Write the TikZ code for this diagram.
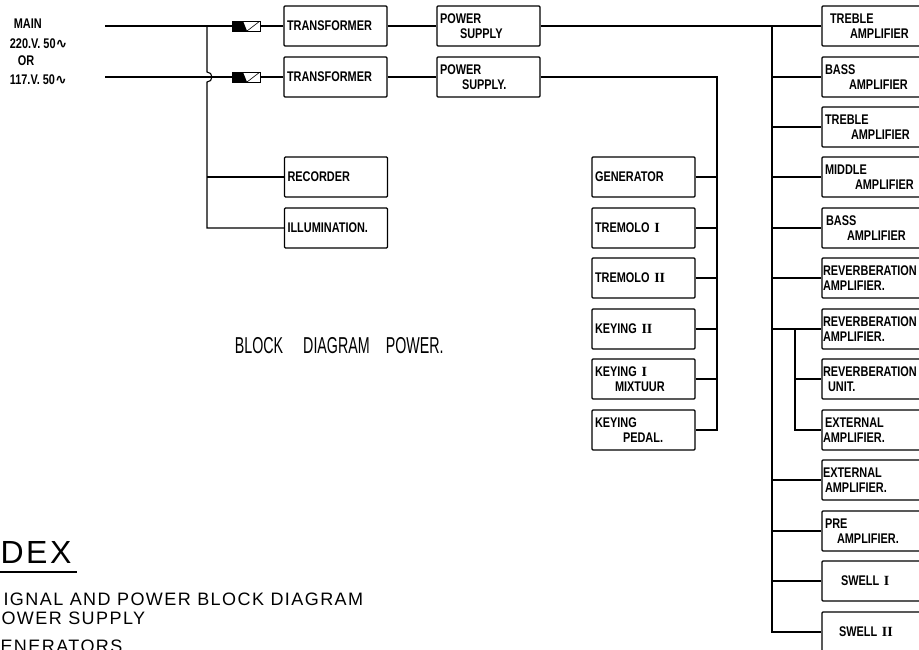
\documentclass[tikz,border=0pt]{standalone}
\usepackage{fontspec}
\setmainfont{Liberation Sans}
\newfontfamily\lblfont[FakeStretch=0.78]{Liberation Sans}
\newfontfamily\ttlfont[FakeStretch=0.62]{Liberation Sans}
\newfontfamily\idxfont[LetterSpace=8]{Liberation Sans}
\newfontfamily\numfont{Liberation Serif}
\newfontfamily\symfont{DejaVu Sans}
\newcommand{\rnum}[1]{{\numfont\bfseries #1}}
\usetikzlibrary{positioning}

\begin{document}
\begin{tikzpicture}[x=1pt,y=-1pt,line width=1.1pt,
    lbl/.style={font=\lblfont\bfseries\fontsize{14}{15}\selectfont},
    blk/.style={lbl,draw,rounded corners=1pt,minimum height=40pt,inner xsep=3pt,align=left},
    blkl/.style={blk,minimum width=103pt,text width=97pt},
    blkr/.style={blk,inner xsep=1pt,minimum width=120pt,text width=118pt},
    fusebox/.style={draw,line width=0.8pt,minimum width=28pt,minimum height=10pt,inner sep=0pt,
        path picture={
            \fill (path picture bounding box.south west) -- (path picture bounding box.north west)
                  -- ([xshift=11pt]path picture bounding box.north west)
                  -- ([xshift=15pt]path picture bounding box.south west) -- cycle;
            \draw[line width=0.6pt] ([xshift=15pt]path picture bounding box.south west)
                  -- (path picture bounding box.north east);}}]
    \useasboundingbox (0,0) rectangle (919,649);

    % Netz
    \node[lbl,anchor=west] (main) at (10,24) {MAIN};
    \node[lbl,anchor=west] (v220) at (6,44) {220.V. 50{\symfont ∿}};
    \node[lbl,anchor=west] (or) at (14,61) {OR};
    \node[lbl,anchor=west] (v117) at (6,80) {117.V. 50{\symfont ∿}};
    \coordinate (m1) at (105,26);
    \coordinate (m2) at (105,77);
    \coordinate (lj) at (207,26);
    \node[fusebox] (f1) at (246,26) {};
    \node[fusebox] (f2) at (246,77) {};

    % Voeding
    \node[blkl] (tr1) at (335.5,26) {TRANSFORMER};
    \node[blkl] (tr2) at (335.5,77) {TRANSFORMER};
    \node[blkl] (ps1) at (488.5,26) {POWER\\\hspace*{20pt}SUPPLY};
    \node[blkl] (ps2) at (488.5,77) {POWER\\\hspace*{22pt}SUPPLY.};
    \node[blkl] (rec) at (336,177) {RECORDER};
    \node[blkl] (ill) at (336,228) {ILLUMINATION.};

    % Generatoren
    \node[blkl] (gen) at (643.5,177) {GENERATOR};
    \node[blkl] (trem1) at (643.5,228) {TREMOLO \rnum{I}};
    \node[blkl] (trem2) at (643.5,278) {TREMOLO \rnum{II}};
    \node[blkl] (key2) at (643.5,329) {KEYING \rnum{II}};
    \node[blkl] (key1) at (643.5,379) {KEYING \rnum{I}\\\hspace*{20pt}MIXTUUR};
    \node[blkl] (keyp) at (643.5,430) {KEYING\\\hspace*{28pt}PEDAL.};

    % Versterkers
    \node[blkr] (tre1) at (882,26) {\hspace*{7pt}TREBLE\\\hspace*{27pt}AMPLIFIER};
    \node[blkr] (bas1) at (882,77) {\hspace*{2pt}BASS\\\hspace*{26pt}AMPLIFIER};
    \node[blkr] (tre2) at (882,127) {\hspace*{2pt}TREBLE\\\hspace*{28pt}AMPLIFIER};
    \node[blkr] (mid) at (882,177) {\hspace*{2pt}MIDDLE\\\hspace*{32pt}AMPLIFIER};
    \node[blkr] (bas2) at (882,228) {\hspace*{3pt}BASS\\\hspace*{24pt}AMPLIFIER};
    \node[blkr] (rva1) at (882,278) {REVERBERATION\\AMPLIFIER.};
    \node[blkr] (rva2) at (882,329) {REVERBERATION\\AMPLIFIER.};
    \node[blkr] (rvu) at (882,379) {REVERBERATION\\\hspace*{5pt}UNIT.};
    \node[blkr] (ext1) at (882,430) {\hspace*{2pt}EXTERNAL\\AMPLIFIER.};
    \node[blkr] (ext2) at (882,480) {EXTERNAL\\\hspace*{2pt}AMPLIFIER.};
    \node[blkr] (pre) at (882,531) {\hspace*{2pt}PRE\\\hspace*{14pt}AMPLIFIER.};
    \node[blkr] (sw1) at (882,581) {\hspace*{18pt}SWELL \rnum{I}};
    \node[blkr] (sw2) at (882,632) {\hspace*{16pt}SWELL \rnum{II}};

    % Leidingen
    \draw (m1) -- (f1) -- (tr1) -- (ps1) -- (tre1);
    \draw (m2) -- (f2) -- (tr2) -- (ps2);
    \draw (lj) -- ++(0,46) arc[start angle=90,end angle=-90,radius=5pt] |- (ill.west);
    \draw (lj |- rec.west) -- (rec.west);
    \coordinate (gb) at (717,77);
    \draw (ps2) -- (gb) |- (keyp.east);
    \foreach \n in {gen,trem1,trem2,key2,key1}
        \draw (\n.east) -- (\n.east -| gb);
    \coordinate (rb) at (772,26);
    \draw (rb) |- (sw2.west);
    \foreach \n in {bas1,tre2,mid,bas2,rva1,rva2,ext2,pre,sw1}
        \draw (rb |- \n.west) -- (\n.west);
    \coordinate (sb) at (795,329);
    \draw (sb) |- (rvu.west);
    \draw (sb) |- (ext1.west);

    % Titel
    \node[font=\ttlfont\fontsize{23}{23}\selectfont,anchor=base west] (ttl) at (231,353)
        {BLOCK\hspace{20pt}DIAGRAM\hspace{16pt}POWER.};

    % Index
    \node[font=\idxfont\fontsize{32}{32}\selectfont,anchor=base west,inner sep=0pt] (dex) at (0,563) {DEX};
    \draw (dex.base west |- 0,572) -- (77,572);
    \node[font=\idxfont\fontsize{18}{18}\selectfont,anchor=base west,inner sep=0pt] (i1) at (3,605)
        {IGNAL AND POWER BLOCK DIAGRAM};
    \node[font=\idxfont\fontsize{18}{18}\selectfont,anchor=base west,inner sep=0pt] (i2) at (1,624)
        {OWER SUPPLY};
    \node[font=\idxfont\fontsize{18}{18}\selectfont,anchor=base west,inner sep=0pt] (i3) at (0,652)
        {ENERATORS};
\end{tikzpicture}
\end{document}
